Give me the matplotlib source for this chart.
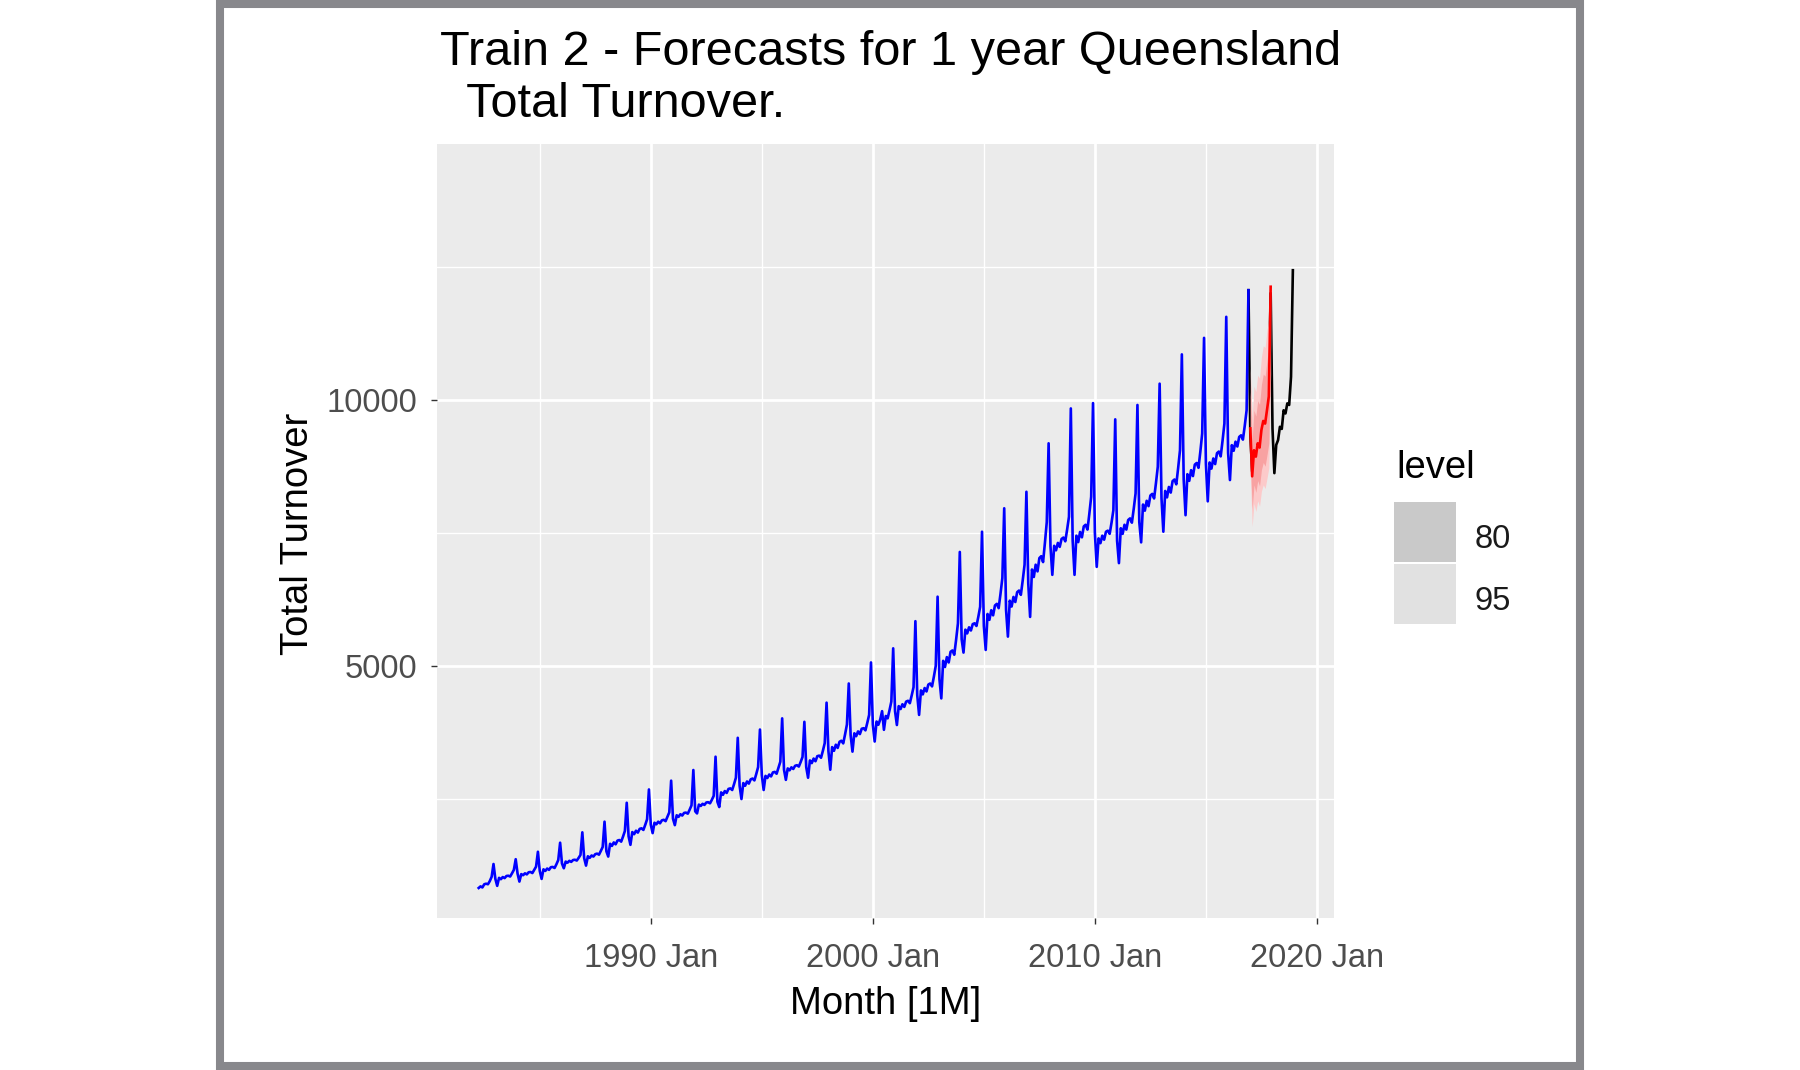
import matplotlib
matplotlib.use("Agg")
import matplotlib.pyplot as plt
import numpy as np
from matplotlib.patches import Rectangle

plt.rcParams['font.family'] = ['Liberation Sans', 'DejaVu Sans']

# Queensland total turnover, monthly, training part (1982 Apr - 2016 Dec)
train_start = (1982, 4)
train_turnover = [
    830, 860, 840, 900, 910, 900, 960, 1040, 1280,                          # 1982 Apr-Dec
    1000, 870, 1020, 995, 1035, 1015, 1055, 1060, 1045, 1105, 1170, 1370,   # 1983
    1100, 950, 1090, 1070, 1105, 1085, 1125, 1130, 1110, 1170, 1230, 1510,  # 1984
    1150, 1000, 1180, 1150, 1195, 1170, 1220, 1225, 1205, 1275, 1355, 1680, # 1985
    1290, 1200, 1325, 1305, 1340, 1320, 1355, 1360, 1345, 1395, 1450, 1875, # 1986
    1390, 1250, 1425, 1395, 1440, 1420, 1465, 1475, 1455, 1525, 1600, 2075, # 1987
    1520, 1420, 1660, 1620, 1685, 1650, 1720, 1730, 1700, 1795, 1900, 2430, # 1988
    1800, 1640, 1880, 1840, 1905, 1870, 1940, 1950, 1920, 2015, 2120, 2680, # 1989
    2020, 1860, 2055, 2025, 2075, 2045, 2100, 2110, 2085, 2165, 2250, 2845, # 1990
    2130, 2010, 2195, 2165, 2215, 2190, 2240, 2245, 2225, 2300, 2380, 3045, # 1991
    2270, 2230, 2395, 2370, 2410, 2390, 2435, 2440, 2420, 2485, 2560, 3295, # 1992
    2450, 2350, 2625, 2580, 2650, 2615, 2690, 2700, 2670, 2780, 2900, 3650, # 1993
    2750, 2500, 2800, 2750, 2830, 2790, 2870, 2885, 2850, 2970, 3100, 3805, # 1994
    2950, 2670, 2935, 2895, 2960, 2925, 3000, 3010, 2975, 3085, 3200, 4015, # 1995
    3050, 2860, 3075, 3040, 3095, 3065, 3125, 3135, 3110, 3195, 3290, 3950, # 1996
    3100, 2900, 3225, 3175, 3260, 3210, 3305, 3315, 3275, 3405, 3550, 4310, # 1997
    3400, 3050, 3475, 3405, 3520, 3460, 3575, 3595, 3545, 3715, 3900, 4670, # 1998
    3700, 3390, 3735, 3680, 3770, 3720, 3820, 3830, 3790, 3930, 4080, 5065, # 1999
    3900, 3580, 3955, 3895, 3995, 4150, 3800, 4060, 4015, 4165, 4330, 5330, # 2000
    4150, 3890, 4245, 4190, 4280, 4230, 4330, 4345, 4300, 4445, 4600, 5840, # 2001
    4450, 4080, 4540, 4465, 4585, 4520, 4650, 4670, 4615, 4800, 5000, 6300, # 2002
    4750, 4390, 5095, 4980, 5165, 5065, 5265, 5290, 5210, 5490, 5800, 7140, # 2003
    5500, 5250, 5680, 5610, 5725, 5665, 5785, 5800, 5750, 5920, 6110, 7520, # 2004
    5750, 5300, 5975, 5865, 6045, 5950, 6135, 6165, 6085, 6355, 6650, 7960, # 2005
    6050, 5550, 6225, 6115, 6295, 6200, 6385, 6415, 6335, 6605, 6900, 8270, # 2006
    6550, 5920, 6810, 6670, 6900, 6775, 7025, 7060, 6950, 7310, 7700, 9180, # 2007
    7250, 6710, 7255, 7170, 7310, 7235, 7385, 7410, 7340, 7560, 7800, 9835, # 2008
    7350, 6710, 7445, 7325, 7515, 7415, 7620, 7650, 7560, 7855, 8175, 9935, # 2009
    7500, 6860, 7395, 7305, 7445, 7370, 7520, 7540, 7480, 7690, 7925, 9630, # 2010
    7350, 6930, 7585, 7480, 7650, 7560, 7740, 7770, 7690, 7950, 8240, 9900, # 2011
    7700, 7320, 8030, 7915, 8100, 8000, 8200, 8230, 8145, 8430, 8740, 10300,  # 2012
    8150, 7520, 8285, 8165, 8360, 8255, 8470, 8500, 8410, 8715, 9050, 10850,  # 2013
    8500, 7830, 8600, 8475, 8675, 8565, 8780, 8810, 8720, 9025, 9365, 11160,  # 2014
    8800, 8090, 8820, 8705, 8895, 8790, 8995, 9025, 8935, 9230, 9550, 11555,  # 2015
    9000, 8490, 9145, 9040, 9210, 9120, 9300, 9330, 9250, 9510, 9800, 12055,  # 2016
]

# 1 year forecast (2017 Jan - Dec) with 80 / 95 % intervals
fc_start = (2017, 1)
fc_mean = [9460, 8560, 9050, 8930, 9180, 9100, 9430, 9600, 9550, 9800, 10060, 12120]
fc_lo95 = [8600, 7620, 8050, 7900, 8100, 8000, 8280, 8400, 8330, 8520, 8720, 10480]
fc_hi95 = [10600, 9650, 10250, 10150, 10460, 10400, 10800, 11010, 10980, 11300, 11500, 12200]
fc_lo80 = [8900, 7950, 8400, 8260, 8480, 8380, 8680, 8820, 8750, 8960, 9180, 11040]
fc_hi80 = [10150, 9250, 9800, 9690, 9980, 9910, 10280, 10480, 10440, 10730, 11000, 12150]

# actual data after training (2016 Dec - 2018 Dec)
test_start = (2016, 12)
test_turnover = [
    12055,
    9350, 8650, 9150, 9000, 9250, 9150, 9500, 9650, 9600, 9850, 10150, 12000,  # 2017
    9450, 8620, 9150, 9240, 9490, 9450, 9800, 9740, 9930, 9900, 10430, 12430,  # 2018
]

tick_years = [1990, 2000, 2010, 2020]
tick_labels = ["1990 Jan", "2000 Jan", "2010 Jan", "2020 Jan"]


def month_axis(start, n):
    # decimal year position of each month
    y, m = start
    return np.array([y + (m - 1 + i) / 12 for i in range(n)])


x_train = month_axis(train_start, len(train_turnover))
x_fc = month_axis(fc_start, len(fc_mean))
x_test = month_axis(test_start, len(test_turnover))

fig = plt.figure(figsize=(18, 10.7), dpi=100)
ax = fig.add_axes([0.243, 0.1417, 0.498, 0.724])
ax.set_facecolor('#EBEBEB')
for s in ax.spines.values():
    s.set_visible(False)

ax.plot(x_test, test_turnover, color='black', lw=1.9, zorder=3)
ax.fill_between(x_fc, fc_lo95, fc_hi95, color='#FCCACA', lw=0, zorder=4)
ax.fill_between(x_fc, fc_lo80, fc_hi80, color='#F8A2A2', lw=0, zorder=5)
ax.plot(x_fc, fc_mean, color='red', lw=1.9, zorder=6)
ax.plot(x_train, train_turnover, color='blue', lw=1.9, zorder=7)

ax.set_xlim(1980.39, 2020.76)
ax.set_ylim(259, 14806)
ax.set_xticks(tick_years)
ax.set_xticklabels(tick_labels)
ax.set_xticks([1985, 1995, 2005, 2015], minor=True)
ax.set_yticks([5000, 10000])
ax.set_yticks([2500, 7500, 12500], minor=True)
ax.grid(which='major', color='white', lw=2.0, zorder=0)
ax.grid(which='minor', color='white', lw=1.0, zorder=0)
ax.set_axisbelow(True)
ax.tick_params(which='minor', length=0)
ax.tick_params(which='major', length=4.4, width=1.0, color='#333333',
               labelsize=23.5, labelcolor='#4D4D4D')
ax.tick_params(axis='y', pad=10)
ax.tick_params(axis='x', pad=13.5)

fig.text(298 / 1800, 1 - 534 / 1070, "Total Turnover", rotation=90,
         ha='center', va='center', fontsize=27.5)
fig.text(886 / 1800, 1 - 1004 / 1070, "Month [1M]",
         ha='center', va='center', fontsize=27.5)

fig.text(440 / 1800, 1 - 65.4 / 1070, "Train 2 - Forecasts for 1 year Queensland",
         ha='left', va='baseline', fontsize=35)
fig.text(440 / 1800, 1 - 117 / 1070, "  Total Turnover.",
         ha='left', va='baseline', fontsize=35)

# legend for interval levels
fig.text(1396 / 1800, 1 - 478 / 1070, "level", ha='left', va='baseline', fontsize=27.5)
for label, col, top in [("80", '#C9C9C9', 502), ("95", '#E1E1E1', 564)]:
    fig.add_artist(Rectangle((1394 / 1800, 1 - (top + 60) / 1070), 62 / 1800, 60 / 1070,
                             transform=fig.transFigure, facecolor=col, edgecolor='none'))
    fig.text(1475 / 1800, 1 - (top + 38) / 1070, label, ha='left', va='center',
             fontsize=23.5, color='#1A1A1A')

# grey frame around the picture
fig.add_artist(Rectangle((220 / 1800, 4 / 1070), 1360 / 1800, 1062 / 1070,
                         transform=fig.transFigure, fill=False,
                         edgecolor='#88888C', lw=5.8))

fig.savefig("out.png", dpi=100, facecolor='white')
